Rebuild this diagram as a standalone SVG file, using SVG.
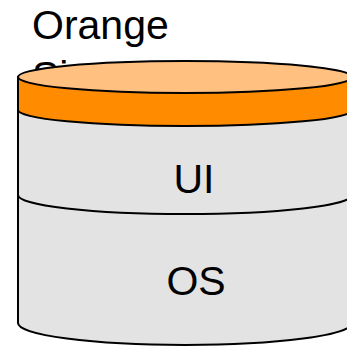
<svg xmlns="http://www.w3.org/2000/svg" width="347" height="346" viewBox="0 0 347 346">
<style>
.t{font-family:"Liberation Sans",Arial,sans-serif;font-size:41px;fill:#000}
.s{stroke:#000;stroke-width:2;stroke-linejoin:round}
</style>
<rect width="347" height="346" fill="#fff"/>
<g id="title">
<text class="t" x="32" y="39">Orange</text>
<text class="t" x="32" y="90">Signature</text>
</g>
<g id="cylinder">
<path class="s" d="M18,77 L18,323 A167,22 0 0 0 352,323 L352,77 Z" fill="#E3E3E3"/>
<path class="s" d="M18,77 L18,110 A167,16 0 0 0 352,110 L352,77 Z" fill="#FF8C00"/>
<ellipse class="s" cx="185" cy="77" rx="167" ry="16" fill="#FFC080"/>
<path class="s" d="M18,195 A167,19 0 0 0 352,195" fill="none"/>
</g>
<g id="ui"><text class="t" x="194" y="193" text-anchor="middle">UI</text></g>
<g id="os"><text class="t" x="196" y="295" text-anchor="middle">OS</text></g>
</svg>
